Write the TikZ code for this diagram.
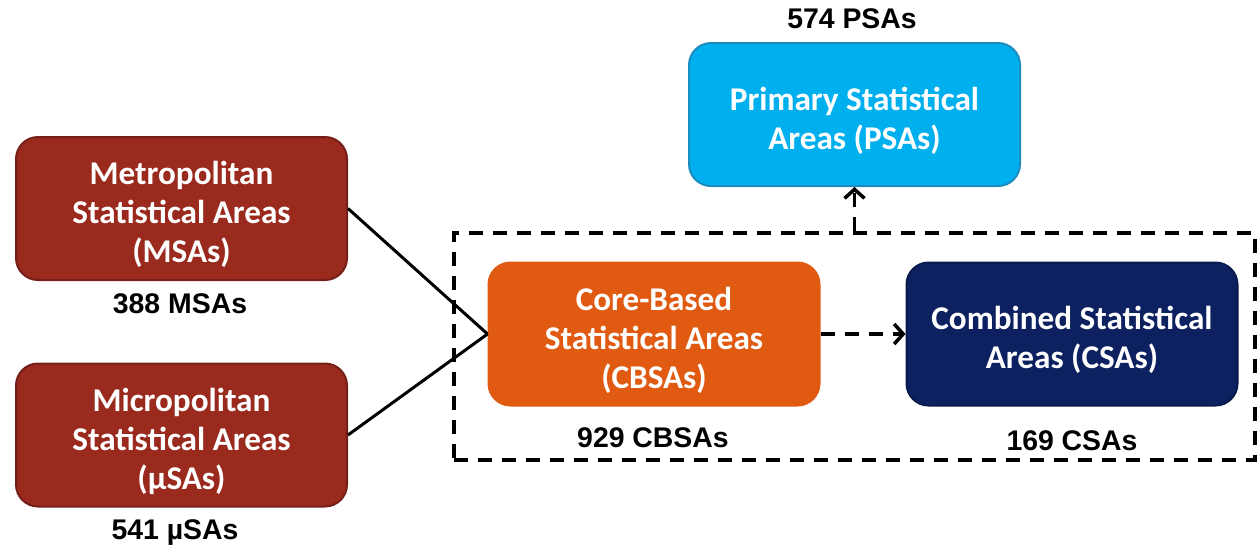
\documentclass[tikz,border=0pt]{standalone}
\usepackage{fontspec}
\setmainfont{Carlito}
\newfontfamily\labfont{Liberation Sans}
\usetikzlibrary{arrows.meta}
\definecolor{msared}{HTML}{9A2A1E}
\definecolor{msaedge}{HTML}{741F17}
\definecolor{psablue}{HTML}{00B0EE}
\definecolor{psaedge}{HTML}{1A8CBE}
\definecolor{cbsaor}{HTML}{E05A12}
\definecolor{csanavy}{HTML}{0D2160}
\definecolor{csaedge}{HTML}{0A1A4C}
\tikzset{
  areabox/.style={rounded corners=11pt, minimum width=165.5pt, minimum height=71.5pt,
    line width=1pt, inner sep=0pt},
  areatext/.style={align=center, text=white, font=\fontsize{16.6}{19.5}\selectfont\bfseries,
    inner sep=0pt, yshift=-3pt},
  countlab/.style={font=\labfont\fontsize{14.2}{16}\selectfont\bfseries, text=black, inner sep=0pt},
  plainline/.style={line width=1.5pt, black},
  dashline/.style={line width=1.75pt, black, dash pattern=on 7pt off 5pt},
  barb/.style={-{Straight Barb[length=4.5pt,width=10pt,line width=1.75pt]}}
}
\begin{document}
\begin{tikzpicture}[x=0.5pt,y=-0.5pt]
\useasboundingbox (0,0) rectangle (1257,548);
\node[draw, dashline, minimum width=400.5pt, minimum height=113.5pt, inner sep=0pt] (grp) at (854.5,346.5) {};
\node[areabox, fill=msared, draw=msaedge] (msa) at (181.5,208.5) {};
\node[areatext] (msat) at (msa) {Metropolitan\\Statistical Areas\\(MSAs)};
\node[areabox, fill=msared, draw=msaedge] (usa) at (181.5,435) {};
\node[areatext] (usat) at (usa) {Micropolitan\\Statistical Areas\\(µSAs)};
\node[areabox, fill=psablue, draw=psaedge] (psa) at (854.5,114.5) {};
\node[areatext] (psat) at (psa) {Primary Statistical\\Areas (PSAs)};
\node[areabox, fill=cbsaor, draw=cbsaor] (cbsa) at (654,334) {};
\node[areatext] (cbsat) at (cbsa) {Core-Based\\Statistical Areas\\(CBSAs)};
\node[areabox, fill=csanavy, draw=csaedge] (csa) at (1072,334) {};
\node[areatext] (csat) at (csa) {Combined Statistical\\Areas (CSAs)};
\node[countlab] (psan) at (852,19) {574 PSAs};
\node[countlab] (msan) at (180,304) {388 MSAs};
\node[countlab] (usan) at (175,533) {541 µSAs};
\node[countlab] (cbsan) at (653,438) {929 CBSAs};
\node[countlab] (csan) at (1072,441) {169 CSAs};
\draw[plainline] (msa.east) -- (cbsa.west);
\draw[plainline] (usa.east) -- (cbsa.west);
\draw[dashline, barb] (cbsa.east) -- (csa.west);
\draw[dashline, barb] (grp.north) -- (psa.south);
\end{tikzpicture}
\end{document}
